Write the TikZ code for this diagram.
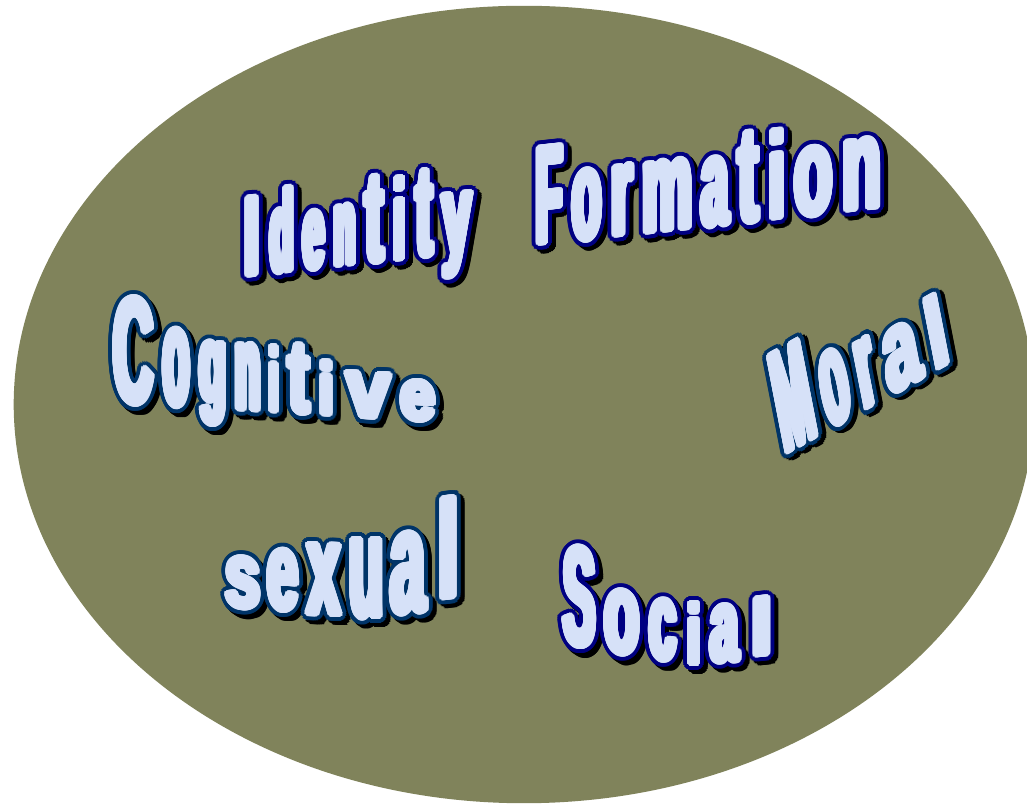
\documentclass[tikz,border=0pt]{standalone}
\usepackage{fontspec}
\usepackage{graphicx}
\newfontfamily\wafont{Liberation Sans}
\definecolor{wabg}{RGB}{128,131,91}
\definecolor{wafill}{RGB}{214,225,248}
\definecolor{wanavy}{RGB}{0,0,130}
\definecolor{wasteel}{RGB}{0,52,104}
\newlength\wapx
\setlength\wapx{0.01cm}
% ring of copies: radius, colour, shadow shift
\newcommand\waring[3]{%
  \foreach \a in {0,15,...,345}{%
    \pgfmathsetlengthmacro\wadx{#1*cos(\a)+#3}%
    \pgfmathsetlengthmacro\wady{#1*sin(\a)-#3}%
    \rlap{\hspace*{\wadx}\raisebox{\wady}{\textcolor{#2}{\waglyph}}}}}
% one letter: outline colour, width, height, letter
\newcommand\waletter[4]{%
  \pgfmathsetlengthmacro\waW{(#2-3)*\wapx}%
  \pgfmathsetlengthmacro\waH{(#3-3)*\wapx}%
  \def\waglyph{\resizebox{\waW}{\waH}{\wafont\bfseries #4}}%
  \waring{2pt}{black}{1.2pt}\waring{2pt}{#1}{0pt}\waring{0.85pt}{wafill}{0pt}%
  \textcolor{wafill}{\waglyph}}
\tikzset{waglyph/.style={inner sep=0pt,outer sep=0pt,anchor=base west}}
\begin{document}
\begin{tikzpicture}[x=0.01cm,y=-0.01cm]
	\useasboundingbox (0,0) rectangle (1027,804);
	\fill[white] (0,0) rectangle (1027,804);
	\fill[wabg] (524,404.5) ellipse [x radius=5.10cm,y radius=3.985cm];
	% Identity Formation
	\foreach \ltr/\x/\y/\w/\h [count=\i] in {I/243/277/18/80,d/269/274/26/86,e/302/271/24/60,
		n/333/267/24/62,t/364/264/21/88,i/392/261/15/84,t/415/258/19/88,y/441/256/32/62,
		F/535/245/29/98,o/571/242/32/72,r/610/237/24/72,m/641/234/53/72,a/700/228/30/70,
		t/737/224/23/92,i/767/220/20/90,o/793/218/41/70,n/841/212/42/72}
	\node[waglyph,cm={1,0.108,0,1,(0,0)}] (idf-\i) at (\x+1.5,\y-1.5) {\waletter{wanavy}{\w}{\h}{\ltr}};
	% Cognitive
	\foreach \ltr/\x/\y/\w/\h [count=\i] in {C/112/403/43/108,o/162/406/29/79,g/198/402/30/62,
		n/234/410/28/68,i/268/412/12/67,t/287/413/24/70,i/318/415/17/55,v/345/417/47/46,e/399/420/38/41}
	\node[waglyph,cm={1,-0.06,0,1,(0,0)}] (cog-\i) at (\x+1.5,\y-1.5) {\waletter{wasteel}{\w}{\h}{\ltr}};
	% Moral
	\foreach \ltr/\x/\y/\w/\h [count=\i] in {M/783.4/454.7/42/100,o/827.2/430.4/32/74,
		r/862.2/411.0/22/68,a/888.4/396.5/42/62,l/932.2/372.2/24/72}
	\node[waglyph,cm={0.875,0.485,-0.191,0.982,(0,0)}] (mor-\i) at (\x+1.5,\y-1.5) {\waletter{wasteel}{\w}{\h}{\ltr}};
	% sexual
	\foreach \ltr/\x/\y/\w/\h/\s [count=\i] in {s/224/607/38/52/-0.08,e/266/610/34/62/-0.05,
		x/306/615/36/72/-0.03,u/348/618/37/80/0,a/389/615/38/82/0.08,l/436/600/25/102/0.12}
	\node[waglyph,cm={1,\s,0,1,(0,0)}] (sex-\i) at (\x+1.5,\y-1.5) {\waletter{wasteel}{\w}{\h}{\ltr}};
	% Social
	\foreach \ltr/\x/\y/\w/\h/\s [count=\i] in {S/562/645/35/101/-0.1,o/603/653/38/65/-0.08,
		c/648/660/30/62/-0.04,i/686/665/16/63/0,a/709/663/31/58/0.05,l/749/657/26/59/0.1}
	\node[waglyph,cm={1,\s,0,1,(0,0)}] (soc-\i) at (\x+1.5,\y-1.5) {\waletter{wanavy}{\w}{\h}{\ltr}};
\end{tikzpicture}
\end{document}
